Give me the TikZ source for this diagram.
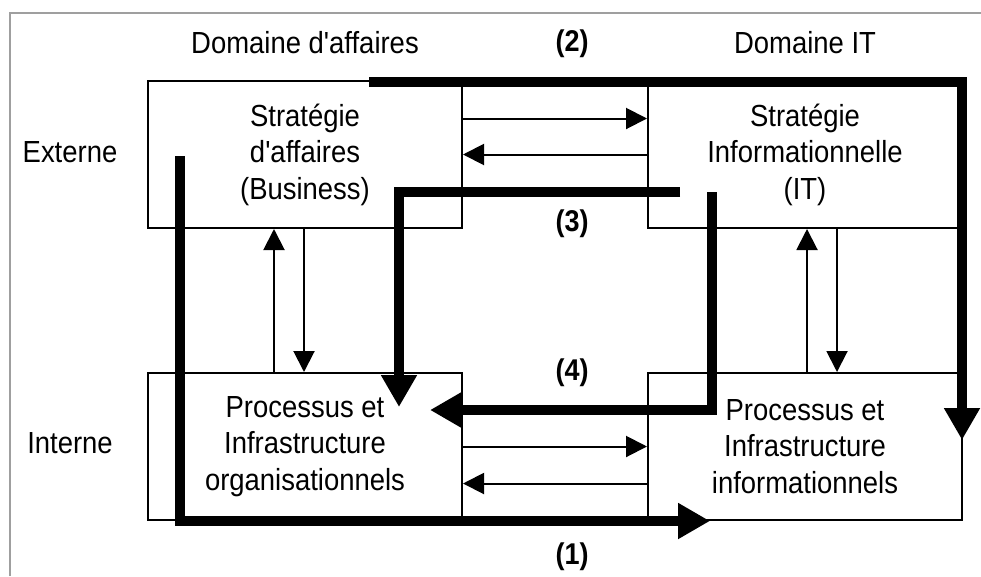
\documentclass[tikz,border=0pt]{standalone}
\usepackage{fontspec}
\setmainfont{Liberation Sans}[Ligatures=TeXOff, FakeStretch=0.9]
\usetikzlibrary{arrows.meta}

\begin{document}
\begin{tikzpicture}[x=1pt,y=-1pt,
  box/.style={draw, line width=2pt, minimum width=314pt, minimum height=147pt,
              inner sep=0pt, align=center, font=\fontsize{30.5}{36.5}\selectfont},
  lab/.style={font=\fontsize{30.5}{34}\selectfont},
  num/.style={font=\fontsize{30}{34}\selectfont\bfseries},
  thinarrow/.style={line width=2pt, -{Triangle[length=21pt,width=21pt]}},
  bigarrow/.style={line width=9.5pt, line join=miter, -{Triangle[length=32pt,width=34pt]}},
  frameline/.style={draw=gray!75, line width=1.5pt}]

\useasboundingbox (0,0) rectangle (981,576);

% outer frame (top and left edges)
\draw[frameline] (10,576) -- (10,13) -- (981,13);

% the four quadrants
\node[box] (tl) at (305,154.5) {Stratégie\\d'affaires\\(Business)};
\node[box] (tr) at (805,154.5) {Stratégie\\Informationnelle\\(IT)};
\node[box] (bl) at (305,446.5) {Processus et\\Infrastructure\\organisationnels};
\node[box] (br) at (805,446.5) {Processus et\\Infrastructure\\informationnels};

% headings
\node[lab] (hbus) at (305,43) {Domaine d'affaires};
\node[lab] (hit)  at (805,43) {Domaine IT};
\node[lab] (hext) at (70,152) {Externe};
\node[lab] (hint) at (70,443) {Interne};

% alignment numbers
\node[num] (n2) at (572,44)  {(2)};
\node[num] (n3) at (572,224) {(3)};
\node[num] (n4) at (572,373) {(4)};
\node[num] (n1) at (572,557) {(1)};

% thin two-way links between quadrants
\draw[thinarrow] ([yshift=36pt]tl.east) -- ([yshift=36pt]tr.west);
\draw[thinarrow] (tr.west) -- (tl.east);
\draw[thinarrow] (bl.east) -- (br.west);
\draw[thinarrow] ([yshift=-37pt]br.west) -- ([yshift=-37pt]bl.east);
\draw[thinarrow] ([xshift=-31pt]bl.north) -- ([xshift=-31pt]tl.south);
\draw[thinarrow] ([xshift=-1pt]tl.south) -- ([xshift=-1pt]bl.north);
\draw[thinarrow] ([xshift=2pt]br.north) -- ([xshift=2pt]tr.south);
\draw[thinarrow] ([xshift=32pt]tr.south) -- ([xshift=32pt]br.north);

% bold alignment paths
\coordinate (a1s) at (180,156);
\coordinate (a1c) at (180,521);
\coordinate (a1e) at (710,521);
\coordinate (a2s) at (369,82);
\coordinate (a2c) at (962,82);
\coordinate (a2e) at (962,440);
\coordinate (a3s) at (680,192);
\coordinate (a3c) at (399,192);
\coordinate (a3e) at (399,407);
\coordinate (a4s) at (712,192);
\coordinate (a4c) at (712,410);
\coordinate (a4e) at (430,410);

\draw[bigarrow] (a1s) -- (a1c) -- (a1e);
\draw[bigarrow] (a2s) -- (a2c) -- (a2e);
\draw[bigarrow] (a3s) -- (a3c) -- (a3e);
\draw[bigarrow] (a4s) -- (a4c) -- (a4e);
\end{tikzpicture}
\end{document}
